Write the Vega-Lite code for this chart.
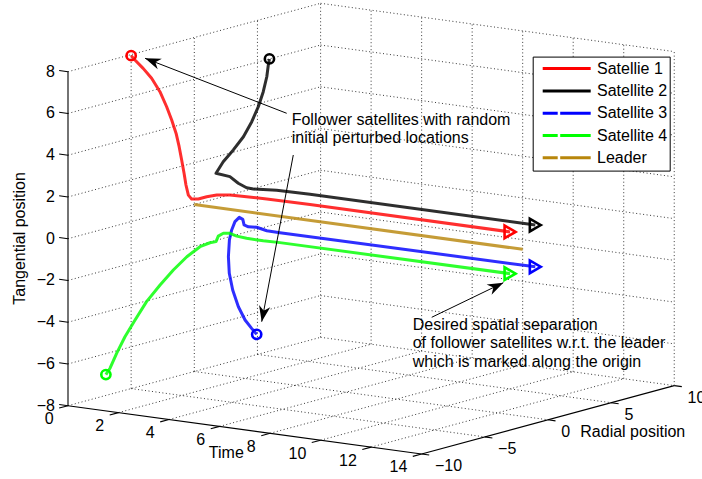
{
 "$schema": "https://vega.github.io/schema/vega-lite/v6.json",
 "width": 702, "height": 479, "padding": 0, "autosize": {"type": "none"},
 "background": "#ffffff",
 "config": {"view": {"stroke": null}, "font": "Liberation Sans"},
 "datasets": {
  "frame": [
   {"part":"axis","t1":0,"r1":-10,"z1":-8,"t2":0,"r2":-10,"z2":8},
   {"part":"axis","t1":0,"r1":-10,"z1":-8,"t2":14,"r2":-10,"z2":-8},
   {"part":"axis","t1":14,"r1":-10,"z1":-8,"t2":14,"r2":10,"z2":-8},
   {"part":"grid","t1":0,"r1":-10,"z1":-8,"t2":0,"r2":10,"z2":-8},
   {"part":"grid","t1":0,"r1":-10,"z1":-6,"t2":0,"r2":10,"z2":-6},
   {"part":"grid","t1":0,"r1":-10,"z1":-4,"t2":0,"r2":10,"z2":-4},
   {"part":"grid","t1":0,"r1":-10,"z1":-2,"t2":0,"r2":10,"z2":-2},
   {"part":"grid","t1":0,"r1":-10,"z1":0,"t2":0,"r2":10,"z2":0},
   {"part":"grid","t1":0,"r1":-10,"z1":2,"t2":0,"r2":10,"z2":2},
   {"part":"grid","t1":0,"r1":-10,"z1":4,"t2":0,"r2":10,"z2":4},
   {"part":"grid","t1":0,"r1":-10,"z1":6,"t2":0,"r2":10,"z2":6},
   {"part":"grid","t1":0,"r1":-10,"z1":8,"t2":0,"r2":10,"z2":8},
   {"part":"grid","t1":0,"r1":-5,"z1":-8,"t2":0,"r2":-5,"z2":8},
   {"part":"grid","t1":0,"r1":0,"z1":-8,"t2":0,"r2":0,"z2":8},
   {"part":"grid","t1":0,"r1":5,"z1":-8,"t2":0,"r2":5,"z2":8},
   {"part":"grid","t1":0,"r1":10,"z1":-8,"t2":0,"r2":10,"z2":8},
   {"part":"grid","t1":0,"r1":10,"z1":-8,"t2":14,"r2":10,"z2":-8},
   {"part":"grid","t1":0,"r1":10,"z1":-6,"t2":14,"r2":10,"z2":-6},
   {"part":"grid","t1":0,"r1":10,"z1":-4,"t2":14,"r2":10,"z2":-4},
   {"part":"grid","t1":0,"r1":10,"z1":-2,"t2":14,"r2":10,"z2":-2},
   {"part":"grid","t1":0,"r1":10,"z1":0,"t2":14,"r2":10,"z2":0},
   {"part":"grid","t1":0,"r1":10,"z1":2,"t2":14,"r2":10,"z2":2},
   {"part":"grid","t1":0,"r1":10,"z1":4,"t2":14,"r2":10,"z2":4},
   {"part":"grid","t1":0,"r1":10,"z1":6,"t2":14,"r2":10,"z2":6},
   {"part":"grid","t1":0,"r1":10,"z1":8,"t2":14,"r2":10,"z2":8},
   {"part":"grid","t1":2,"r1":10,"z1":-8,"t2":2,"r2":10,"z2":8},
   {"part":"grid","t1":4,"r1":10,"z1":-8,"t2":4,"r2":10,"z2":8},
   {"part":"grid","t1":6,"r1":10,"z1":-8,"t2":6,"r2":10,"z2":8},
   {"part":"grid","t1":8,"r1":10,"z1":-8,"t2":8,"r2":10,"z2":8},
   {"part":"grid","t1":10,"r1":10,"z1":-8,"t2":10,"r2":10,"z2":8},
   {"part":"grid","t1":12,"r1":10,"z1":-8,"t2":12,"r2":10,"z2":8},
   {"part":"grid","t1":14,"r1":10,"z1":-8,"t2":14,"r2":10,"z2":8},
   {"part":"grid","t1":2,"r1":-10,"z1":-8,"t2":2,"r2":10,"z2":-8},
   {"part":"grid","t1":4,"r1":-10,"z1":-8,"t2":4,"r2":10,"z2":-8},
   {"part":"grid","t1":6,"r1":-10,"z1":-8,"t2":6,"r2":10,"z2":-8},
   {"part":"grid","t1":8,"r1":-10,"z1":-8,"t2":8,"r2":10,"z2":-8},
   {"part":"grid","t1":10,"r1":-10,"z1":-8,"t2":10,"r2":10,"z2":-8},
   {"part":"grid","t1":12,"r1":-10,"z1":-8,"t2":12,"r2":10,"z2":-8},
   {"part":"grid","t1":0,"r1":-5,"z1":-8,"t2":14,"r2":-5,"z2":-8},
   {"part":"grid","t1":0,"r1":0,"z1":-8,"t2":14,"r2":0,"z2":-8},
   {"part":"grid","t1":0,"r1":5,"z1":-8,"t2":14,"r2":5,"z2":-8}
  ],
  "ticks": [
   {"axis":"z","v":-8,"label":"−8"},{"axis":"z","v":-6,"label":"−6"},{"axis":"z","v":-4,"label":"−4"},
   {"axis":"z","v":-2,"label":"−2"},{"axis":"z","v":0,"label":"0"},{"axis":"z","v":2,"label":"2"},
   {"axis":"z","v":4,"label":"4"},{"axis":"z","v":6,"label":"6"},{"axis":"z","v":8,"label":"8"},
   {"axis":"t","v":0,"label":"0"},{"axis":"t","v":2,"label":"2"},{"axis":"t","v":4,"label":"4"},
   {"axis":"t","v":6,"label":"6"},{"axis":"t","v":8,"label":"8"},{"axis":"t","v":10,"label":"10"},
   {"axis":"t","v":12,"label":"12"},{"axis":"t","v":14,"label":"14"},
   {"axis":"r","v":-10,"label":"−10"},{"axis":"r","v":-5,"label":"−5"},{"axis":"r","v":0,"label":"0"},
   {"axis":"r","v":5,"label":"5"},{"axis":"r","v":10,"label":"10"}
  ],
  "traj": [
   {"series":"Satellie 1","t":0,"r":-5,"z":7.95},{"series":"Satellie 1","t":0.01,"r":-4.72,"z":7.7},
   {"series":"Satellie 1","t":0.03,"r":-4.11,"z":7.2},{"series":"Satellie 1","t":0.06,"r":-3.5,"z":6.63},
   {"series":"Satellie 1","t":0.1,"r":-2.92,"z":5.9},{"series":"Satellie 1","t":0.14,"r":-2.47,"z":5.11},
   {"series":"Satellie 1","t":0.18,"r":-2.15,"z":4.43},{"series":"Satellie 1","t":0.22,"r":-1.88,"z":3.75},
   {"series":"Satellie 1","t":0.25,"r":-1.7,"z":3.09},{"series":"Satellie 1","t":0.29,"r":-1.58,"z":2.44},
   {"series":"Satellie 1","t":0.33,"r":-1.47,"z":1.79},{"series":"Satellie 1","t":0.36,"r":-1.38,"z":1.22},
   {"series":"Satellie 1","t":0.39,"r":-1.25,"z":0.72},{"series":"Satellie 1","t":0.42,"r":-1.05,"z":0.5},
   {"series":"Satellie 1","t":0.66,"r":-1,"z":0.54},{"series":"Satellie 1","t":0.99,"r":-1,"z":0.7},
   {"series":"Satellie 1","t":1.39,"r":-1,"z":0.85},{"series":"Satellie 1","t":1.91,"r":-1,"z":0.94},
   {"series":"Satellie 1","t":2.57,"r":-1,"z":0.96},{"series":"Satellie 1","t":3.37,"r":-1,"z":0.98},
   {"series":"Satellie 1","t":5.08,"r":-1,"z":1},{"series":"Satellie 1","t":13,"r":-1,"z":1},
   {"series":"Satellite 2","t":0,"r":5.95,"z":6},{"series":"Satellite 2","t":0.02,"r":5.82,"z":5.73},
   {"series":"Satellite 2","t":0.06,"r":5.62,"z":5.21},{"series":"Satellite 2","t":0.1,"r":5.26,"z":4.56},
   {"series":"Satellite 2","t":0.15,"r":4.77,"z":3.93},{"series":"Satellite 2","t":0.2,"r":4.15,"z":3.32},
   {"series":"Satellite 2","t":0.25,"r":3.39,"z":2.73},{"series":"Satellite 2","t":0.29,"r":2.51,"z":2.25},
   {"series":"Satellite 2","t":0.32,"r":1.65,"z":1.83},{"series":"Satellite 2","t":0.36,"r":1,"z":1.39},
   {"series":"Satellite 2","t":0.91,"r":1,"z":1.32},{"series":"Satellite 2","t":1.24,"r":1,"z":1.06},
   {"series":"Satellite 2","t":1.57,"r":1,"z":0.9},{"series":"Satellite 2","t":1.84,"r":1,"z":0.88},
   {"series":"Satellite 2","t":2.76,"r":1,"z":0.97},{"series":"Satellite 2","t":4.08,"r":1,"z":1},
   {"series":"Satellite 2","t":13,"r":1,"z":1},
   {"series":"Satellite 3","t":0,"r":4.94,"z":-7.03},{"series":"Satellite 3","t":0.12,"r":4.3,"z":-6.62},
   {"series":"Satellite 3","t":0.25,"r":3.52,"z":-6.07},{"series":"Satellite 3","t":0.37,"r":2.75,"z":-5.29},
   {"series":"Satellite 3","t":0.49,"r":2.06,"z":-4.35},{"series":"Satellite 3","t":0.61,"r":1.55,"z":-3.45},
   {"series":"Satellite 3","t":0.74,"r":1.22,"z":-2.58},{"series":"Satellite 3","t":0.86,"r":1.06,"z":-1.73},
   {"series":"Satellite 3","t":0.98,"r":1,"z":-1.22},{"series":"Satellite 3","t":1.11,"r":1,"z":-0.8},
   {"series":"Satellite 3","t":1.28,"r":1,"z":-0.57},{"series":"Satellite 3","t":1.42,"r":1,"z":-0.64},
   {"series":"Satellite 3","t":1.47,"r":1,"z":-0.9},{"series":"Satellite 3","t":1.64,"r":1,"z":-0.96},
   {"series":"Satellite 3","t":1.97,"r":1,"z":-0.93},{"series":"Satellite 3","t":2.37,"r":1,"z":-1.03},
   {"series":"Satellite 3","t":2.89,"r":1,"z":-1.04},{"series":"Satellite 3","t":13,"r":1,"z":-1},
   {"series":"Satellite 4","t":0,"r":-7,"z":-7},{"series":"Satellite 4","t":0.06,"r":-6.79,"z":-6.72},
   {"series":"Satellite 4","t":0.21,"r":-6.57,"z":-6.02},{"series":"Satellite 4","t":0.38,"r":-6.25,"z":-5.25},
   {"series":"Satellite 4","t":0.56,"r":-5.81,"z":-4.49},{"series":"Satellite 4","t":0.74,"r":-5.26,"z":-3.67},
   {"series":"Satellite 4","t":0.92,"r":-4.55,"z":-2.96},{"series":"Satellite 4","t":1.07,"r":-3.8,"z":-2.34},
   {"series":"Satellite 4","t":1.21,"r":-3.01,"z":-1.81},{"series":"Satellite 4","t":1.31,"r":-2.17,"z":-1.45},
   {"series":"Satellite 4","t":1.35,"r":-1.46,"z":-1.37},{"series":"Satellite 4","t":1.36,"r":-1,"z":-1.39},
   {"series":"Satellite 4","t":1.45,"r":-1,"z":-1.11},{"series":"Satellite 4","t":1.65,"r":-1,"z":-0.94},
   {"series":"Satellite 4","t":1.91,"r":-1,"z":-0.9},{"series":"Satellite 4","t":2.18,"r":-1,"z":-0.99},
   {"series":"Satellite 4","t":2.57,"r":-1,"z":-1.03},{"series":"Satellite 4","t":3.23,"r":-1,"z":-1.04},
   {"series":"Satellite 4","t":3.89,"r":-1,"z":-1.02},{"series":"Satellite 4","t":13,"r":-1,"z":-1},
   {"series":"Leader","t":0,"r":0,"z":0},{"series":"Leader","t":13,"r":0,"z":0}
  ],
  "notes": [
   {"kind":"arrow","x":0.4084,"y":0.7635,"x2":0.2066,"y2":0.8783},
   {"kind":"arrow","x":0.4178,"y":0.6764,"x2":0.3728,"y2":0.3284},
   {"kind":"arrow","x":0.6150,"y":0.3376,"x2":0.7170,"y2":0.4098},
   {"kind":"text","x":0.4155,"y":0.7495,"text":"Follower satellites with random"},
   {"kind":"text","x":0.4155,"y":0.7113,"text":"initial perturbed locations"},
   {"kind":"text","x":0.5879,"y":0.3215,"text":"Desired spatial separation"},
   {"kind":"text","x":0.5879,"y":0.2846,"text":"of follower satellites w.r.t. the leader"},
   {"kind":"text","x":0.5879,"y":0.2449,"text":"which is marked along the origin"},
   {"kind":"title","x":0.3224,"y":0.0537,"text":"Time"},
   {"kind":"title","x":0.9014,"y":0.0975,"text":"Radial position"},
   {"kind":"vtitle","x":0.0278,"y":0.5021,"text":"Tangential position"}
  ]
 },
 "layer": [
  {
   "encoding": {
    "x": {"field":"px","type":"quantitative","scale":{"domain":[0,702],"nice":false,"zero":false},"axis":null},
    "y": {"field":"py","type":"quantitative","scale":{"domain":[0,479],"reverse":true,"nice":false,"zero":false},"axis":null}
   },
   "layer": [
    {
     "data": {"name":"frame"},
     "transform": [
      {"filter":"datum.part == 'grid'"},
      {"calculate":"68 + 25.26*datum.t1 + 12.63*(datum.r1+10)","as":"px"},
      {"calculate":"405.7 + 3.45*datum.t1 - 3.42*(datum.r1+10) - 20.875*(datum.z1+8)","as":"py"},
      {"calculate":"68 + 25.26*datum.t2 + 12.63*(datum.r2+10)","as":"px2"},
      {"calculate":"405.7 + 3.45*datum.t2 - 3.42*(datum.r2+10) - 20.875*(datum.z2+8)","as":"py2"}
     ],
     "mark": {"type":"rule","color":"#222222","strokeWidth":0.9,"strokeDash":[1,2.5]},
     "encoding": {"x2":{"field":"px2"},"y2":{"field":"py2"}}
    },
    {
     "data": {"name":"frame"},
     "transform": [
      {"filter":"datum.part == 'axis'"},
      {"calculate":"68 + 25.26*datum.t1 + 12.63*(datum.r1+10)","as":"px"},
      {"calculate":"405.7 + 3.45*datum.t1 - 3.42*(datum.r1+10) - 20.875*(datum.z1+8)","as":"py"},
      {"calculate":"68 + 25.26*datum.t2 + 12.63*(datum.r2+10)","as":"px2"},
      {"calculate":"405.7 + 3.45*datum.t2 - 3.42*(datum.r2+10) - 20.875*(datum.z2+8)","as":"py2"}
     ],
     "mark": {"type":"rule","color":"#000000","strokeWidth":1.1},
     "encoding": {"x2":{"field":"px2"},"y2":{"field":"py2"}}
    },
    {
     "data": {"name":"ticks"},
     "transform": [
      {"calculate":"datum.axis == 't' ? datum.v : (datum.axis == 'r' ? 14 : 0)","as":"t"},
      {"calculate":"datum.axis == 'r' ? datum.v : -10","as":"r"},
      {"calculate":"datum.axis == 'z' ? datum.v : -8","as":"z"},
      {"calculate":"datum.t + (datum.axis == 'z' ? -0.35 : (datum.axis == 'r' ? 0.3 : 0))","as":"tt"},
      {"calculate":"datum.r + (datum.axis == 't' ? -0.7 : 0)","as":"rr"},
      {"calculate":"68 + 25.26*datum.t + 12.63*(datum.r+10)","as":"px"},
      {"calculate":"405.7 + 3.45*datum.t - 3.42*(datum.r+10) - 20.875*(datum.z+8)","as":"py"},
      {"calculate":"68 + 25.26*datum.tt + 12.63*(datum.rr+10)","as":"px2"},
      {"calculate":"405.7 + 3.45*datum.tt - 3.42*(datum.rr+10) - 20.875*(datum.z+8)","as":"py2"}
     ],
     "mark": {"type":"rule","color":"#000000","strokeWidth":1.1},
     "encoding": {"x2":{"field":"px2"},"y2":{"field":"py2"}}
    },
    {
     "data": {"name":"ticks"},
     "transform": [
      {"filter":"datum.axis == 'z'"},
      {"calculate":"68","as":"px"},
      {"calculate":"405.7 - 20.875*(datum.v+8)","as":"py"}
     ],
     "mark": {"type":"text","align":"right","baseline":"middle","dx":-13,"fontSize":16,"font":"Liberation Sans","color":"#000000"},
     "encoding": {"text":{"field":"label"}}
    },
    {
     "data": {"name":"ticks"},
     "transform": [
      {"filter":"datum.axis == 't'"},
      {"calculate":"68 + 25.26*datum.v","as":"px"},
      {"calculate":"405.7 + 3.45*datum.v","as":"py"}
     ],
     "mark": {"type":"text","align":"right","baseline":"middle","dx":-14.3,"dy":13.4,"fontSize":16,"font":"Liberation Sans","color":"#000000"},
     "encoding": {"text":{"field":"label"}}
    },
    {
     "data": {"name":"ticks"},
     "transform": [
      {"filter":"datum.axis == 'r'"},
      {"calculate":"68 + 25.26*14 + 12.63*(datum.v+10)","as":"px"},
      {"calculate":"405.7 + 3.45*14 - 3.42*(datum.v+10)","as":"py"}
     ],
     "mark": {"type":"text","align":"left","baseline":"middle","dx":13.3,"dy":12.3,"fontSize":16,"font":"Liberation Sans","color":"#000000"},
     "encoding": {"text":{"field":"label"}}
    },
    {
     "data": {"name":"traj"},
     "transform": [
      {"calculate":"68 + 25.26*datum.t + 12.63*(datum.r+10)","as":"px"},
      {"calculate":"405.7 + 3.45*datum.t - 3.42*(datum.r+10) - 20.875*(datum.z+8)","as":"py"}
     ],
     "mark": {"type":"line","strokeWidth":3,"opacity":0.82,"strokeJoin":"round"},
     "encoding": {
      "order": {"field":"t","type":"quantitative"},
      "color": {
       "field":"series","type":"nominal",
       "scale":{"domain":["Satellie 1","Satellite 2","Satellite 3","Satellite 4","Leader"],"range":["#ff0000","#000000","#0000ff","#00ff00","#b8860b"]},
       "legend": {
        "orient":"none","legendX":532.7,"legendY":56.6,"title":null,
        "symbolType":"stroke","symbolSize":2304,"symbolStrokeWidth":3,"symbolOffset":6.5,"symbolOpacity":1,
        "labelFont":"Liberation Sans","labelFontSize":16,"labelColor":"#000000","labelOffset":4.8,"labelLimit":300,
        "labelExpr":"datum.label + ' '",
        "clipHeight":20,"rowPadding":2.3,"padding":2,
        "strokeColor":"#000000","fillColor":"#ffffff",
        "encode":{"symbols":{"update":{"opacity":{"value":1},"strokeDash":{"signal":"indexof(['Satellite 3','Satellite 4','Leader'], datum.value) >= 0 ? [15,2.5,40,0] : [1,0]"}}}}
       }
      }
     }
    },
    {
     "data": {"name":"traj"},
     "transform": [
      {"filter":"datum.t == 0 && datum.series != 'Leader'"},
      {"calculate":"68 + 25.26*datum.t + 12.63*(datum.r+10)","as":"px"},
      {"calculate":"405.7 + 3.45*datum.t - 3.42*(datum.r+10) - 20.875*(datum.z+8)","as":"py"}
     ],
     "mark": {"type":"point","shape":"circle","filled":false,"size":85,"strokeWidth":2.6,"opacity":1},
     "encoding": {
      "stroke": {"field":"series","type":"nominal","legend":null,
       "scale":{"domain":["Satellie 1","Satellite 2","Satellite 3","Satellite 4","Leader"],"range":["#ff0000","#000000","#0000ff","#00ff00","#b8860b"]}}
     }
    },
    {
     "data": {"name":"traj"},
     "transform": [
      {"filter":"datum.t == 13 && datum.series != 'Leader'"},
      {"calculate":"68 + 25.26*datum.t + 12.63*(datum.r+10)","as":"px"},
      {"calculate":"405.7 + 3.45*datum.t - 3.42*(datum.r+10) - 20.875*(datum.z+8)","as":"py"}
     ],
     "mark": {"type":"point","shape":"triangle-right","filled":false,"size":160,"strokeWidth":2.6,"opacity":1},
     "encoding": {
      "stroke": {"field":"series","type":"nominal","legend":null,
       "scale":{"domain":["Satellie 1","Satellite 2","Satellite 3","Satellite 4","Leader"],"range":["#ff0000","#000000","#0000ff","#00ff00","#b8860b"]}}
     }
    }
   ]
  },
  {
   "data": {"name":"notes"},
   "encoding": {
    "x": {"field":"x","type":"quantitative","scale":{"domain":[0,1],"nice":false,"zero":false},"axis":null},
    "y": {"field":"y","type":"quantitative","scale":{"domain":[0,1],"nice":false,"zero":false},"axis":null}
   },
   "layer": [
    {
     "transform": [{"filter":"datum.kind == 'arrow'"}],
     "mark": {"type":"rule","color":"#000000","strokeWidth":1},
     "encoding": {"x2":{"field":"x2"},"y2":{"field":"y2"}}
    },
    {
     "transform": [
      {"filter":"datum.kind == 'arrow'"},
      {"calculate":"atan2((datum.x2-datum.x)*702, (datum.y2-datum.y)*479)*180/PI","as":"ang"}
     ],
     "mark": {"type":"point","shape":"M0,0L-0.36,1L0,0.7L0.36,1Z","filled":true,"size":1000,"color":"#000000","opacity":1,"strokeWidth":0},
     "encoding": {
      "x": {"field":"x2","type":"quantitative"},
      "y": {"field":"y2","type":"quantitative"},
      "angle": {"field":"ang","type":"quantitative","scale":null}
     }
    },
    {
     "transform": [{"filter":"datum.kind == 'text'"}],
     "mark": {"type":"text","align":"left","baseline":"middle","fontSize":16,"font":"Liberation Sans","color":"#000000"},
     "encoding": {"text":{"field":"text"}}
    },
    {
     "transform": [{"filter":"datum.kind == 'title'"}],
     "mark": {"type":"text","align":"center","baseline":"middle","fontSize":16,"font":"Liberation Sans","color":"#000000"},
     "encoding": {"text":{"field":"text"}}
    },
    {
     "transform": [{"filter":"datum.kind == 'vtitle'"}],
     "mark": {"type":"text","align":"center","baseline":"middle","angle":270,"fontSize":16,"font":"Liberation Sans","color":"#000000"},
     "encoding": {"text":{"field":"text"}}
    }
   ]
  }
 ],
 "resolve": {"scale": {"x":"independent","y":"independent"}}
}
